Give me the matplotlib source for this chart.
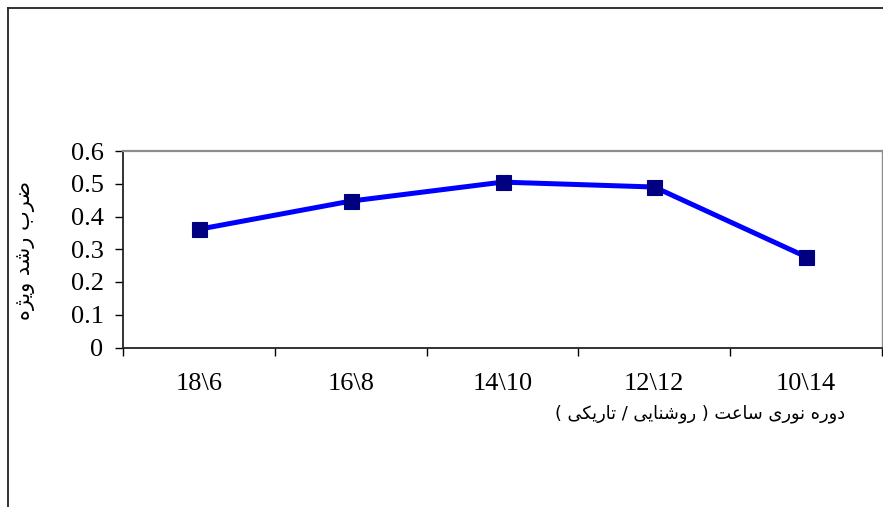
import matplotlib
matplotlib.use("Agg")
import matplotlib.pyplot as plt
from matplotlib.lines import Line2D

# Photoperiod (light \ dark hours) and specific growth rate
categories = ["18\\6", "16\\8", "14\\10", "12\\12", "10\\14"]
growth_rate = [0.361, 0.447, 0.505, 0.490, 0.277]
y_ticks = [0, 0.1, 0.2, 0.3, 0.4, 0.5, 0.6]
y_tick_labels = ["0", "0.1", "0.2", "0.3", "0.4", "0.5", "0.6"]

# Persian captions written in Arabic presentation forms (visual order),
# since matplotlib draws glyphs left to right without shaping.
y_title = "\uFEE9\uFB8B\uFEF3\uFEED \uFEAA\uFEB7\uFEAD \uFE8F\uFEAE\uFEBF"   # ضرب رشد ویژه
x_title = ("( \uFEF0\uFB91\uFEF3\uFEAD\uFE8E\uFE97 / "                    # تاریکی
           "\uFEF0\uFEF3\uFE8E\uFEE8\uFEB7\uFEED\uFEAD ) "                 # روشنایی
           "\uFE96\uFECB\uFE8E\uFEB3 "                                     # ساعت
           "\uFEEF\uFEAD\uFEEE\uFEE7 "                                     # نوری
           "\uFEE9\uFEAD\uFEED\uFEA9")                                     # دوره

serif = ["Liberation Serif", "DejaVu Serif"]

fig = plt.figure(figsize=(8.83, 5.07), dpi=100)
ax = fig.add_axes([123 / 883, 159.5 / 507, 759 / 883, 196.5 / 507])

x = list(range(1, len(categories) + 1))
ax.plot(x, growth_rate, color="#0000FF", linewidth=3.6, zorder=3,
        marker="s", markersize=10.8, markerfacecolor="#000080",
        markeredgecolor="#000080", markeredgewidth=0.8)

ax.set_xlim(0.5, len(categories) + 0.5)
ax.set_ylim(0, 0.6)

# category boundaries carry the tick marks, centres carry the labels
ax.set_xticks([i + 0.5 for i in range(len(categories) + 1)])
ax.set_xticklabels([])
ax.set_xticks(x, minor=True)
ax.set_xticklabels(categories, minor=True, fontfamily=serif, fontsize=19)
ax.tick_params(axis="x", which="major", direction="out", length=5.5, width=1.0, color="black")
ax.tick_params(axis="x", which="minor", length=0, pad=18)

ax.set_yticks(y_ticks)
ax.set_yticklabels(y_tick_labels, fontfamily=serif, fontsize=19)
ax.tick_params(axis="y", direction="out", length=6, width=1.0, pad=8, color="black")

for side in ("left", "bottom"):
    ax.spines[side].set_color("#222222")
    ax.spines[side].set_linewidth(1.3)
ax.spines["top"].set_color("#8c8c8c")
ax.spines["top"].set_linewidth(1.6)
ax.spines["right"].set_color("#8c8c8c")
ax.spines["right"].set_linewidth(1.0)

fig.text(25 / 883, 1 - 251 / 507, y_title, rotation=90, ha="center", va="center",
         fontfamily=["DejaVu Sans"], fontsize=15, color="black")
fig.text(845 / 883, 1 - 414 / 507, x_title, ha="right", va="center",
         fontfamily=["DejaVu Sans"], fontsize=12.8, color="black")

# chart-area frame along the top and left edges
fig.add_artist(Line2D([8 / 883, 1.0], [1 - 8 / 507, 1 - 8 / 507],
                      transform=fig.transFigure, color="#222222", linewidth=1.3))
fig.add_artist(Line2D([8 / 883, 8 / 883], [1 - 8 / 507, 0.0],
                      transform=fig.transFigure, color="#222222", linewidth=1.3))

fig.savefig("out.png", dpi=100)
